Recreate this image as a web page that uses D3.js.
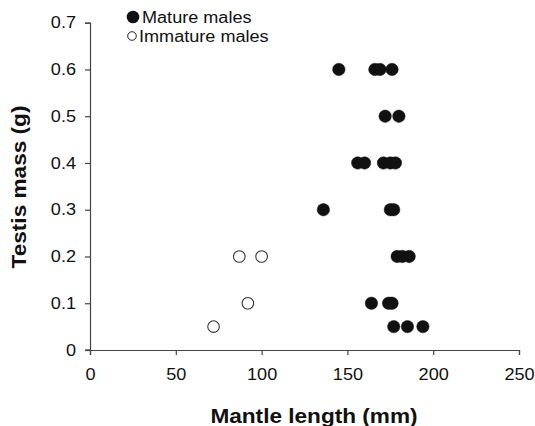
<!DOCTYPE html>
<html><head><meta charset="utf-8">
<script src="https://cdn.jsdelivr.net/npm/d3@7"></script>
<style>body{margin:0;background:#fff;} svg{display:block;font-family:"Liberation Sans",Arial,sans-serif;}</style>
</head><body>
<svg id="c" width="535" height="426"></svg>
<script>
const matureLength = [145,166,169,176, 172,180, 156,160,171,175,178, 136,175,177, 179,182,186, 164,174,176, 177,185,194];
const matureMass   = [0.6,0.6,0.6,0.6, 0.5,0.5, 0.4,0.4,0.4,0.4,0.4, 0.3,0.3,0.3, 0.2,0.2,0.2, 0.1,0.1,0.1, 0.05,0.05,0.05];
const immatureLength = [72, 92, 87, 100];
const immatureMass   = [0.05, 0.1, 0.2, 0.2];
const xTicks = [0,50,100,150,200,250];
const yTicks = [0,0.1,0.2,0.3,0.4,0.5,0.6,0.7];
const seriesNames = ["Mature males","Immature males"];

const svg = d3.select("#c");
const x = d3.scaleLinear().domain([0,250]).range([90,519]);
const y = d3.scaleLinear().domain([0,0.7]).range([350,22.7]);
const axisColor = "#444";

const gx = svg.append("g").attr("transform","translate(0,350)")
  .call(d3.axisBottom(x).tickValues(xTicks).tickSize(5).tickPadding(14).tickFormat(d3.format("d")));
const gy = svg.append("g").attr("transform","translate(90,0)")
  .call(d3.axisLeft(y).tickValues(yTicks).tickSize(5).tickPadding(9).tickFormat(d=> d===0?"0":d3.format(".1f")(d)));
[gx,gy].forEach(g=>{
  g.select(".domain").attr("stroke",axisColor).attr("stroke-width",1.2);
  g.selectAll(".tick line").attr("stroke",axisColor).attr("stroke-width",1.2);
  g.selectAll("text").attr("font-size",16).attr("fill","#111").attr("font-family","Liberation Sans, Arial, sans-serif");
});
svg.append("line").attr("x1",85).attr("x2",90).attr("y1",350).attr("y2",350).attr("stroke",axisColor).attr("stroke-width",1.2);

svg.append("text").attr("x",314).attr("y",423).attr("text-anchor","middle")
  .attr("font-size",20).attr("font-weight","bold").attr("fill","#111").text("Mantle length (mm)");
svg.append("text").attr("transform","translate(26,187) rotate(-90)").attr("text-anchor","middle")
  .attr("font-size",20).attr("font-weight","bold").attr("fill","#111").text("Testis mass (g)");

const mature = matureLength.map((v,i)=>({x:v,y:matureMass[i]}));
const immature = immatureLength.map((v,i)=>({x:v,y:immatureMass[i]}));

svg.append("g").selectAll("circle").data(immature).join("circle")
  .attr("cx",d=>x(d.x)).attr("cy",d=>y(d.y)).attr("r",5.8)
  .attr("fill","#fff").attr("stroke","#333").attr("stroke-width",1.1);
svg.append("g").selectAll("circle").data(mature).join("circle")
  .attr("cx",d=>x(d.x)).attr("cy",d=>y(d.y)).attr("r",6.2)
  .attr("fill","#111").attr("stroke","#111").attr("stroke-width",0.5);

const leg = svg.append("g");
leg.append("circle").attr("cx",133).attr("cy",17).attr("r",6.3).attr("fill","#111");
leg.append("text").attr("x",142).attr("y",23).attr("font-size",16).attr("fill","#111").text(seriesNames[0]);
leg.append("circle").attr("cx",132).attr("cy",36).attr("r",4.3).attr("fill","#fff").attr("stroke","#222").attr("stroke-width",1);
leg.append("text").attr("x",139).attr("y",42).attr("font-size",16).attr("fill","#111").text(seriesNames[1]);

// horizontally widen glyphs to match the reference's wider typeface
svg.selectAll("text").each(function(){
  const len = this.getComputedTextLength();
  d3.select(this).attr("textLength", len*1.13).attr("lengthAdjust","spacingAndGlyphs");
});
</script>
</body></html>
